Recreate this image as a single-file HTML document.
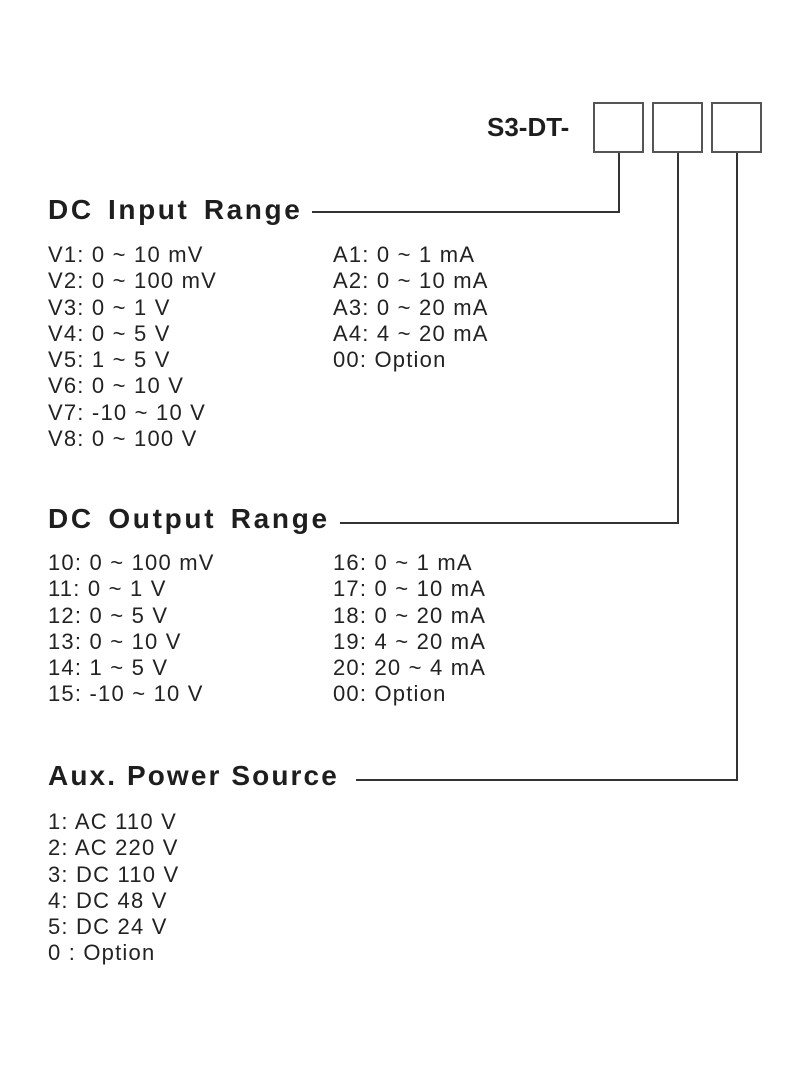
<!DOCTYPE html>
<html><head><meta charset="utf-8"><style>
body{margin:0;background:#fff;width:800px;height:1067px;position:relative;overflow:hidden;font-family:"Liberation Sans",sans-serif;color:#222}
.h{position:absolute;font-weight:bold;font-size:28px;letter-spacing:2.6px;word-spacing:4px;line-height:30px;color:#1e1e1e}
.l{position:absolute;font-size:22px;line-height:26.3px;letter-spacing:1.2px;white-space:pre}
.b{position:absolute;border:2px solid #555;width:47px;height:47px;box-sizing:content-box}
.v{position:absolute;background:#333;width:2px}
.hz{position:absolute;background:#333;height:2px}
</style></head><body>
<div class="h" style="left:487px;top:112px;font-size:26px;letter-spacing:0;word-spacing:0">S3-DT-</div>
<div class="b" style="left:593px;top:102px"></div>
<div class="b" style="left:652px;top:102px"></div>
<div class="b" style="left:711px;top:102px"></div>
<div class="v" style="left:618px;top:153px;height:60px"></div>
<div class="hz" style="left:312px;top:211px;width:308px"></div>
<div class="v" style="left:677px;top:153px;height:371px"></div>
<div class="hz" style="left:340px;top:522px;width:339px"></div>
<div class="v" style="left:736px;top:153px;height:628px"></div>
<div class="hz" style="left:356px;top:779px;width:382px"></div>

<div class="h" style="left:48px;top:195px">DC Input Range</div>
<div class="l" style="left:48px;top:242px">V1: 0 ~ 10 mV
V2: 0 ~ 100 mV
V3: 0 ~ 1 V
V4: 0 ~ 5 V
V5: 1 ~ 5 V
V6: 0 ~ 10 V
V7: -10 ~ 10 V
V8: 0 ~ 100 V</div>
<div class="l" style="left:333px;top:242px">A1: 0 ~ 1 mA
A2: 0 ~ 10 mA
A3: 0 ~ 20 mA
A4: 4 ~ 20 mA
00: Option</div>

<div class="h" style="left:48px;top:504px;letter-spacing:2.7px">DC Output Range</div>
<div class="l" style="left:48px;top:550px">10: 0 ~ 100 mV
11: 0 ~ 1 V
12: 0 ~ 5 V
13: 0 ~ 10 V
14: 1 ~ 5 V
15: -10 ~ 10 V</div>
<div class="l" style="left:333px;top:550px">16: 0 ~ 1 mA
17: 0 ~ 10 mA
18: 0 ~ 20 mA
19: 4 ~ 20 mA
20: 20 ~ 4 mA
00: Option</div>

<div class="h" style="left:48px;top:761px;letter-spacing:2.1px;word-spacing:0">Aux. Power Source</div>
<div class="l" style="left:48px;top:809px">1: AC 110 V
2: AC 220 V
3: DC 110 V
4: DC 48 V
5: DC 24 V
0 : Option</div>
</body></html>
